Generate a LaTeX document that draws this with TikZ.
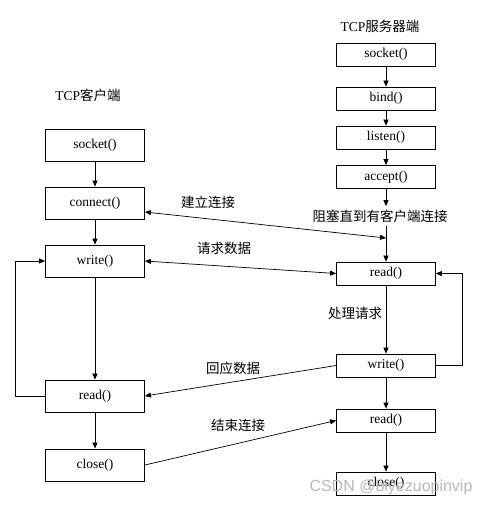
\documentclass[tikz,border=0pt]{standalone}
\usepackage{fontspec}
\setmainfont{Liberation Serif}
\newfontfamily\cjk{Noto Sans CJK SC}
\newfontfamily\wmfont{Liberation Sans}
\usetikzlibrary{arrows.meta}

\tikzset{
  box/.style={draw, line width=0.8pt, minimum width=99pt, minimum height=32pt, inner sep=0pt},
  sbox/.style={draw, line width=0.8pt, minimum width=99pt, minimum height=23pt, inner sep=0pt},
  arr/.style={line width=0.7pt, -{Triangle[length=6pt,width=5pt]}},
  dbl/.style={line width=0.7pt, {Triangle[length=6pt,width=5pt]}-{Triangle[length=6pt,width=5pt]}},
  lbl/.style={font=\cjk\fontsize{13.5}{16}\selectfont}
}

\begin{document}
\begin{tikzpicture}[x=1pt,y=-1pt,font=\fontsize{13.5}{16}\selectfont]
\useasboundingbox[fill=white] (0,0) rectangle (496,507);

% client side
\node (cttl) at (88,95) {TCP{\cjk 客户端}};
\node[box] (csock) at (95,145) {socket()};
\node[box] (cconn) at (95,203) {connect()};
\node[box] (cwrite) at (95,261) {write()};
\node[box] (cread) at (95,396) {read()};
\node[box] (cclose) at (95,465) {close()};

% server side
\node (sttl) at (380,26) {TCP{\cjk 服务器端}};
\node[sbox] (ssock) at (386,54.5) {socket()};
\node[sbox] (sbind) at (386,98.5) {bind()};
\node[sbox] (slisten) at (386,137.5) {listen()};
\node[sbox] (saccept) at (386,177) {accept()};
\node[lbl] (sblock) at (380,216) {阻塞直到有客户端连接};
\node[sbox] (sread) at (386,273.5) {read()};
\node[sbox] (swrite) at (386,365.5) {write()};
\node[sbox] (sread2) at (386,420.5) {read()};
\node[sbox] (sclose) at (386,483.5) {close()};
\coordinate (sconn) at (386,238);

% labels
\node[lbl] (lconn) at (208,202) {建立连接};
\node[lbl] (lreq) at (224,248) {请求数据};
\node[lbl] (lproc) at (355,313) {处理请求};
\node[lbl] (lresp) at (233,368) {回应数据};
\node[lbl] (lend) at (238,425) {结束连接};

% client arrows
\draw[arr] (csock) -- (cconn);
\draw[arr] (cconn) -- (cwrite);
\draw[arr] (cwrite) -- (cread);
\draw[arr] (cread) -- (cclose);
\draw[arr] (cread.west) -- ++(-30,0) |- (cwrite.west);

% server arrows
\draw[arr] (ssock) -- (sbind);
\draw[arr] (sbind) -- (slisten);
\draw[arr] (slisten) -- (saccept);
\draw[arr] (saccept) -- (saccept |- sblock.north);
\draw[arr] (saccept |- sblock.south) -- (sread);
\draw[arr] (sread) -- (swrite);
\draw[arr] (swrite) -- (sread2);
\draw[arr] (sread2) -- (sclose);
\draw[arr] (swrite.east) -- ++(26,0) |- (sread.east);

% between client and server
\draw[dbl] ([yshift=-9pt]cconn.east) -- (sconn);
\draw[dbl] (cwrite.east) -- (sread.west);
\draw[arr] (swrite.west) -- (cread.east);
\draw[arr] (cclose.east) -- (sread2.west);

\node[text=gray!55, font=\wmfont\fontsize{16}{18}\selectfont] (wm) at (391,487) {CSDN @biyezuopinvip};
\end{tikzpicture}
\end{document}
